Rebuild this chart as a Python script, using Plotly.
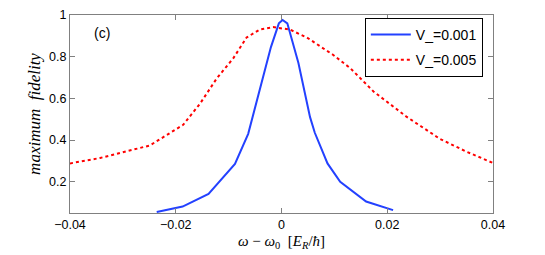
import plotly.graph_objects as go

blue_x = [-0.0236, -0.0187, -0.0138, -0.0088, -0.0063, -0.0039, -0.0020, -0.0005, 0.0002,
          0.0011, 0.0032, 0.0054, 0.0063, 0.0087, 0.0111, 0.0160, 0.0211]
blue_y = [0.055, 0.081, 0.142, 0.285, 0.430, 0.670, 0.846, 0.960, 0.976,
          0.960, 0.770, 0.510, 0.435, 0.288, 0.200, 0.105, 0.064]

red_x = [-0.0400, -0.0343, -0.0249, -0.0186, -0.0154, -0.0123, -0.0091, -0.0066, -0.0041,
         -0.0016, 0.0016, 0.0048, 0.0098, 0.0130, 0.0174, 0.0237, 0.0300, 0.0350, 0.0400]
red_y = [0.288, 0.314, 0.374, 0.473, 0.575, 0.694, 0.793, 0.892, 0.930,
         0.942, 0.930, 0.892, 0.808, 0.745, 0.633, 0.511, 0.405, 0.344, 0.290]

series_names = ["V_=0.001", "V_=0.005"]
x_ticks = [-0.04, -0.02, 0, 0.02, 0.04]
x_labels = ["\u22120.04", "\u22120.02", "0", "0.02", "0.04"]
y_ticks = [0.2, 0.4, 0.6, 0.8, 1]
y_labels = ["0.2", "0.4", "0.6", "0.8", "1"]

fig = go.Figure()
fig.add_trace(go.Scatter(x=blue_x, y=blue_y, mode="lines", name=series_names[0],
                         legendgroup="a",
                         line=dict(color="rgb(35,65,255)", width=2)))
fig.add_trace(go.Scatter(x=red_x, y=red_y, mode="lines", name=series_names[1],
                         legendgroup="b",
                         line=dict(color="rgb(255,0,0)", width=2, dash="dot")))

axis_common = dict(showgrid=False, zeroline=False, showline=True, linecolor="#808080",
                   linewidth=1, mirror="ticks", ticks="inside", ticklen=5,
                   tickcolor="#808080",
                   tickfont=dict(family="Liberation Sans, Arial", size=12.5, color="black"))

fig.update_layout(
    width=545, height=255,
    margin=dict(l=70, r=52, t=8, b=39),
    paper_bgcolor="white", plot_bgcolor="white",
    showlegend=True,
    legend=dict(x=0.697, y=0.985, xanchor="left", yanchor="top",
                bordercolor="black", borderwidth=1, bgcolor="white",
                font=dict(family="Liberation Sans, Arial", size=14, color="black"),
                tracegroupgap=4, itemwidth=40),
    xaxis=dict(range=[-0.04, 0.04], tickvals=x_ticks, ticktext=x_labels,
               title=dict(text="<i>\u03c9</i> \u2212 <i>\u03c9</i><sub>0</sub>  [<i>E<sub>R</sub></i>/<i>\u0127</i>]",
                          font=dict(family="Liberation Serif, serif", size=15, color="black"),
                          standoff=4),
               **axis_common),
    yaxis=dict(range=[0.05, 1], tickvals=y_ticks, ticktext=y_labels,
               title=dict(text="<i>maximum  fidelity</i>",
                          font=dict(family="Liberation Serif, serif", size=17, color="black"),
                          standoff=4),
               **axis_common),
    annotations=[dict(x=-0.034, y=0.915, xref="x", yref="y", text="(c)", showarrow=False,
                      font=dict(family="Liberation Sans, Arial", size=14, color="black"))],
)

fig.write_html("out.html", config={"displayModeBar": False},
               post_script="document.body.style.margin='0';")
